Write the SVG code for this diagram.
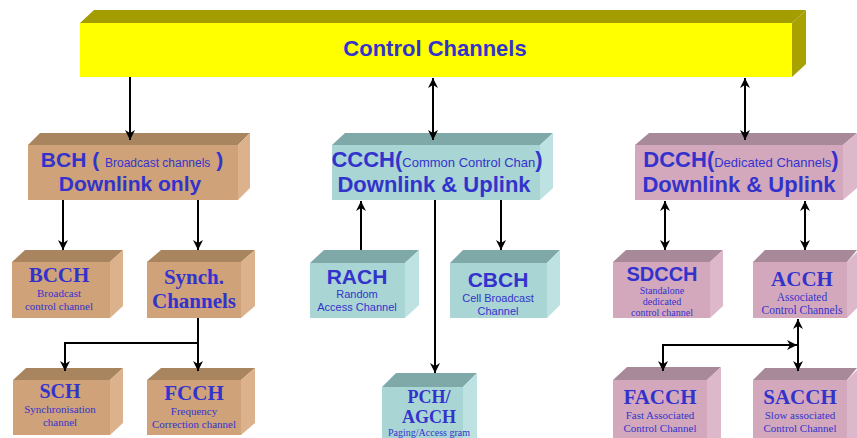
<svg xmlns="http://www.w3.org/2000/svg" width="857" height="438" viewBox="0 0 857 438">
<style>
.tf{fill:#A9855F}.ts{fill:#DCB28C}.tr{fill:#CFA27A}
.cf{fill:#7FA8A8}.cs{fill:#BEE2E2}.cr{fill:#A9D5D5}
.pf{fill:#A8899A}.ps{fill:#DDB8CA}.pr{fill:#D3A8BC}
.yf{fill:#A39D00}.ys{fill:#A8A200}.yr{fill:#FFFF00}
text{fill:#3333CC;text-anchor:middle}
.sb{font-family:"Liberation Sans",Arial,sans-serif;font-weight:bold}
.sr{font-family:"Liberation Sans",Arial,sans-serif;font-weight:normal}
.rb{font-family:"Liberation Serif","Times New Roman",serif;font-weight:bold}
.rr{font-family:"Liberation Serif","Times New Roman",serif;font-weight:normal}
.ln{fill:none;stroke:#000;stroke-width:2}
</style>
<defs>
<marker id="ah" viewBox="0 0 10 10" refX="10" refY="5" markerWidth="5" markerHeight="5" orient="auto-start-reverse" markerUnits="strokeWidth">
<path d="M0,0 L10,5 L0,10 L3,5 Z" fill="#000"/>
</marker>
</defs>
<rect width="857" height="438" fill="#fff"/>

<g id="control">
<polygon class="yf" points="80,23 94,10 806,10 792,23"/>
<polygon class="ys" points="792,23 806,10 806,64 792,77"/>
<rect class="yr" x="80" y="23" width="712" height="54"/>
<text class="sb" x="435" y="56" font-size="22">Control Channels</text>
</g>

<g id="bch">
<polygon class="tf" points="28,145 40,133 250,133 238,145"/>
<polygon class="ts" points="238,145 250,133 250,188 238,200"/>
<rect class="tr" x="28" y="145" width="210" height="55"/>
<text class="sb" x="132" y="167" font-size="21">BCH ( <tspan class="sr" font-size="12">Broadcast channels</tspan> )</text>
<text class="sb" x="130" y="191" font-size="21">Downlink only</text>
</g>

<g id="ccch">
<polygon class="cf" points="332,145 345,133 553,133 540,145"/>
<polygon class="cs" points="540,145 553,133 553,188 540,200"/>
<rect class="cr" x="332" y="145" width="208" height="55"/>
<text class="sb" x="437" y="167" font-size="22">CCCH(<tspan class="sr" font-size="13">Common Control Chan</tspan>)</text>
<text class="sb" x="434" y="192" font-size="22">Downlink &amp; Uplink</text>
</g>

<g id="dcch">
<polygon class="pf" points="635,145 649,133 857,133 843,145"/>
<polygon class="ps" points="843,145 857,133 857,188 843,200"/>
<rect class="pr" x="635" y="145" width="208" height="55"/>
<text class="sb" x="741" y="167" font-size="22">DCCH(<tspan class="sr" font-size="13">Dedicated Channels</tspan>)</text>
<text class="sb" x="739" y="192" font-size="22">Downlink &amp; Uplink</text>
</g>

<g id="bcch">
<polygon class="tf" points="12,262 25,250 123,250 110,262"/>
<polygon class="ts" points="110,262 123,250 123,306 110,318"/>
<rect class="tr" x="12" y="262" width="98" height="56"/>
<text class="rb" x="59" y="282" font-size="21">BCCH</text>
<text class="rr" x="59" y="297" font-size="11">Broadcast</text>
<text class="rr" x="59" y="310" font-size="11">control channel</text>
</g>

<g id="synch">
<polygon class="tf" points="147,262 161,250 255,250 241,262"/>
<polygon class="ts" points="241,262 255,250 255,306 241,318"/>
<rect class="tr" x="147" y="262" width="94" height="56"/>
<text class="rb" x="194" y="284" font-size="21">Synch.</text>
<text class="rb" x="194" y="308" font-size="21">Channels</text>
</g>

<g id="rach">
<polygon class="cf" points="310,263 324,250 419,250 405,263"/>
<polygon class="cs" points="405,263 419,250 419,305 405,318"/>
<rect class="cr" x="310" y="263" width="95" height="55"/>
<text class="sb" x="357" y="284" font-size="21">RACH</text>
<text class="sr" x="357" y="298" font-size="11">Random</text>
<text class="sr" x="357" y="311" font-size="11">Access Channel</text>
</g>

<g id="cbch">
<polygon class="cf" points="450,263 463,250 560,250 547,263"/>
<polygon class="cs" points="547,263 560,250 560,305 547,318"/>
<rect class="cr" x="450" y="263" width="97" height="55"/>
<text class="sb" x="498" y="287" font-size="21">CBCH</text>
<text class="sr" x="498" y="302" font-size="11">Cell Broadcast</text>
<text class="sr" x="498" y="315" font-size="11">Channel</text>
</g>

<g id="sdcch">
<polygon class="pf" points="613,262 626,250 723,250 710,262"/>
<polygon class="ps" points="710,262 723,250 723,306 710,318"/>
<rect class="pr" x="613" y="262" width="97" height="56"/>
<text class="sb" x="662" y="281" font-size="20">SDCCH</text>
<text class="rr" x="662" y="294" font-size="10">Standalone</text>
<text class="rr" x="662" y="305" font-size="10">dedicated</text>
<text class="rr" x="662" y="316" font-size="10">control channel</text>
</g>

<g id="acch">
<polygon class="pf" points="753,262 765,250 857,250 847,262"/>
<polygon class="ps" points="847,262 857,252 857,308 847,318"/>
<rect class="pr" x="753" y="262" width="94" height="56"/>
<text class="rb" x="802" y="286" font-size="21">ACCH</text>
<text class="rr" x="802" y="301" font-size="11.5">Associated</text>
<text class="rr" x="802" y="314" font-size="11.5">Control Channels</text>
</g>

<g id="sch">
<polygon class="tf" points="13,380 26,368 123,368 110,380"/>
<polygon class="ts" points="110,380 123,368 123,423 110,435"/>
<rect class="tr" x="13" y="380" width="97" height="55"/>
<text class="rb" x="60" y="398" font-size="20">SCH</text>
<text class="rr" x="60" y="413" font-size="11">Synchronisation</text>
<text class="rr" x="60" y="426" font-size="11">channel</text>
</g>

<g id="fcch">
<polygon class="tf" points="147,380 161,368 255,368 241,380"/>
<polygon class="ts" points="241,380 255,368 255,423 241,435"/>
<rect class="tr" x="147" y="380" width="94" height="55"/>
<text class="rb" x="194" y="400" font-size="21">FCCH</text>
<text class="rr" x="194" y="415" font-size="11">Frequency</text>
<text class="rr" x="194" y="428" font-size="11">Correction channel</text>
</g>

<g id="pch">
<polygon class="cf" points="382,387 396,373 477,373 463,387"/>
<polygon class="cs" points="463,387 477,373 477,438 463,438"/>
<rect class="cr" x="382" y="387" width="81" height="51"/>
<text class="rb" x="429" y="403" font-size="18">PCH/</text>
<text class="rb" x="429" y="423" font-size="18">AGCH</text>
<text class="rr" x="429" y="436" font-size="10">Paging/Access gram</text>
</g>

<g id="facch">
<polygon class="pf" points="613,380 627,367 721,367 707,380"/>
<polygon class="ps" points="707,380 721,367 721,438 707,438"/>
<rect class="pr" x="613" y="380" width="94" height="58"/>
<text class="rb" x="660" y="404" font-size="21">FACCH</text>
<text class="rr" x="660" y="419" font-size="11">Fast Associated</text>
<text class="rr" x="660" y="432" font-size="11">Control Channel</text>
</g>

<g id="sacch">
<polygon class="pf" points="753,380 765,368 857,368 847,380"/>
<polygon class="ps" points="847,380 857,370 857,438 847,438"/>
<rect class="pr" x="753" y="380" width="94" height="58"/>
<text class="rb" x="800" y="404" font-size="21">SACCH</text>
<text class="rr" x="800" y="419" font-size="11">Slow associated</text>
<text class="rr" x="800" y="432" font-size="11">Control Channel</text>
</g>

<g id="connectors">
<path class="ln" d="M130,77 V140" marker-end="url(#ah)"/>
<path class="ln" d="M433,78 V140" marker-start="url(#ah)" marker-end="url(#ah)"/>
<path class="ln" d="M745,78 V140" marker-start="url(#ah)" marker-end="url(#ah)"/>
<path class="ln" d="M63,200 V250" marker-end="url(#ah)"/>
<path class="ln" d="M198,200 V250" marker-end="url(#ah)"/>
<path class="ln" d="M198,318 V343 H65 V371" marker-end="url(#ah)"/>
<path class="ln" d="M198,343 V371" marker-end="url(#ah)"/>
<path class="ln" d="M361,250 V201" marker-end="url(#ah)"/>
<path class="ln" d="M435,200 V373" marker-end="url(#ah)"/>
<path class="ln" d="M501,200 V250" marker-end="url(#ah)"/>
<path class="ln" d="M665,201 V250" marker-start="url(#ah)" marker-end="url(#ah)"/>
<path class="ln" d="M805,201 V250" marker-start="url(#ah)" marker-end="url(#ah)"/>
<path class="ln" d="M798,319 V371" marker-start="url(#ah)" marker-end="url(#ah)"/>
<path class="ln" d="M663,371 V345 H797" marker-start="url(#ah)" marker-end="url(#ah)"/>
</g>
</svg>
